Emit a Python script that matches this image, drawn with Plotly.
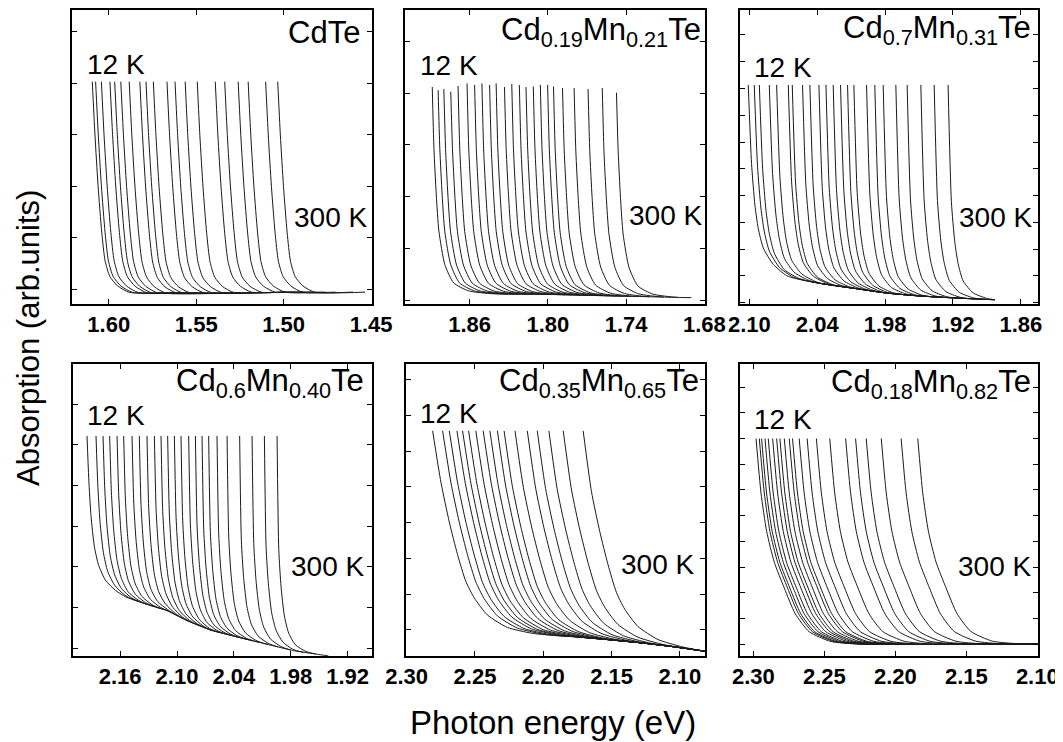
import numpy as np
import plotly.graph_objects as go

# The page body adds an 8 px margin, so the figure is drawn 8 px in from the top-left
OFF = 8
W, H = 1063 - OFF, 742 - OFF

# ---------------- data ----------------
TITLES = ["CdTe",
          "Cd<sub>0.19</sub>Mn<sub>0.21</sub>Te",
          "Cd<sub>0.7</sub>Mn<sub>0.31</sub>Te",
          "Cd<sub>0.6</sub>Mn<sub>0.40</sub>Te",
          "Cd<sub>0.35</sub>Mn<sub>0.65</sub>Te",
          "Cd<sub>0.18</sub>Mn<sub>0.82</sub>Te"]

# Absorption-edge energies (eV) at the top of each curve, 12 K -> 300 K
EDGES_1 = [1.6094, 1.6075, 1.6042, 1.5993, 1.5966, 1.5931, 1.5883, 1.5822, 1.5787, 1.5745,
           1.5667, 1.5621, 1.5563, 1.5494, 1.5391, 1.5337, 1.5260, 1.5203, 1.5103, 1.5034]
EDGES_2 = [1.8887, 1.8842, 1.8798, 1.8745, 1.8689, 1.8620, 1.8562, 1.8506, 1.8447, 1.8397,
           1.8333, 1.8277, 1.8219, 1.8168, 1.8112, 1.8058, 1.8002, 1.7957, 1.7888, 1.7799,
           1.7692, 1.7583, 1.7474]
EDGES_3 = [2.1010, 2.0957, 2.0912, 2.0824, 2.0759, 2.0656, 2.0621, 2.0530, 2.0465, 2.0385,
           2.0323, 2.0259, 2.0194, 2.0132, 2.0076, 1.9964, 1.9891, 1.9817, 1.9705, 1.9605,
           1.9484, 1.9366, 1.9243]
EDGES_4 = [2.1950, 2.1855, 2.1781, 2.1711, 2.1633, 2.1563, 2.1475, 2.1398, 2.1317, 2.1239,
           2.1169, 2.1099, 2.1028, 2.0958, 2.0877, 2.0806, 2.0736, 2.0666, 2.0578, 2.0472,
           2.0339, 2.0208, 2.0078, 1.9944]
EDGES_5 = [2.2810, 2.2737, 2.2688, 2.2632, 2.2591, 2.2547, 2.2494, 2.2440, 2.2391, 2.2336,
           2.2287, 2.2207, 2.2117, 2.2044, 2.1959, 2.1854, 2.1708]
EDGES_6 = [2.2981, 2.2958, 2.2942, 2.2918, 2.2895, 2.2864, 2.2836, 2.2813, 2.2782, 2.2747,
           2.2724, 2.2677, 2.2621, 2.2556, 2.2462, 2.2350, 2.2280, 2.2205, 2.2099, 2.1959,
           2.1842]

# Absorption value at the top of each curve (arb. units, in tick steps)
TOPS_1 = [4.03] * len(EDGES_1)
TOPS_2 = [4.12, 4.06, 4.08, 4.03, 4.14, 4.19, 4.16, 4.19, 4.16, 4.19, 4.12, 4.18, 4.16,
          4.12, 4.13, 4.16, 4.16, 4.13, 4.10, 4.10, 4.08, 4.10, 4.01]
TOPS_3 = [8.13] * len(EDGES_3)
TOPS_4 = [5.22] * len(EDGES_4)
TOPS_5 = [5.57] * len(EDGES_5)
TOPS_6 = [8.0] * len(EDGES_6)

# Edge profile: energy below the top (eV) and height above the background
PROF_DX_1 = [0, 0.0015, 0.0033, 0.0054, 0.0073, 0.0100, 0.0144, 0.0211]
PROF_Y_1 = [0, 3.05, 2.05, 1.15, 0.60, 0.30, 0.12, 0.0]
PROF_DX_2 = [0, 0.0013, 0.0031, 0.0051, 0.0097, 0.0165, 0.0280, 0.0460]
PROF_Y_2 = [0, 2.80, 1.90, 1.20, 0.55, 0.20, 0.05, 0.0]
PROF_DX_3 = [0, 0.0029, 0.0059, 0.0088, 0.0133, 0.0221, 0.0339, 0.0412]
PROF_Y_3 = [0, 3.60, 2.10, 1.30, 0.65, 0.22, 0.04, 0.0]
PROF_DX_4 = [0, 0.0018, 0.0042, 0.0077, 0.0123, 0.0194, 0.0299, 0.0387]
PROF_Y_4 = [0, 2.40, 1.50, 0.80, 0.40, 0.15, 0.03, 0.0]
PROF_DX_5 = [0, 0.0061, 0.0122, 0.0182, 0.0243, 0.0304, 0.0401, 0.0547, 0.0729, 0.0924]
PROF_Y_5 = [0, 4.10, 3.00, 2.10, 1.35, 0.90, 0.45, 0.15, 0.03, 0.0]
PROF_DX_6 = [0, 0.0035, 0.0075, 0.0129, 0.0199, 0.0276, 0.0374, 0.0526, 0.0702, 0.0842]
PROF_Y_6 = [0, 5.90, 4.40, 3.20, 2.20, 1.20, 0.50, 0.12, 0.02, 0.0]

# Background (below-gap) level on which the tails lie
ENV_E_1 = [1.625, 1.570, 1.500, 1.445]
ENV_Y_1 = [-0.02, -0.07, -0.05, -0.05]
ENV_E_2 = [1.910, 1.800, 1.680]
ENV_Y_2 = [0.14, 0.11, 0.04]
ENV_E_3 = [2.108, 2.0906, 2.0671, 2.0376, 2.0082, 1.9788, 1.9493, 1.9199, 1.8831, 1.845]
ENV_Y_3 = [1.80, 1.45, 0.97, 0.72, 0.54, 0.36, 0.25, 0.18, 0.11, 0.08]
ENV_E_4 = [2.210, 2.190, 2.1739, 2.1528, 2.1317, 2.1106, 2.0894, 2.0648, 2.0402, 2.0120,
           1.9768, 1.9417, 1.894]
ENV_Y_4 = [1.95, 1.75, 1.50, 1.25, 1.08, 0.93, 0.68, 0.45, 0.30, 0.14, -0.06, -0.18, -0.19]
ENV_E_5 = [2.301, 2.2506, 2.2263, 2.2019, 2.1776, 2.1533, 2.1290, 2.1047, 2.081]
ENV_Y_5 = [0.05, 0.0, -0.08, -0.14, -0.19, -0.27, -0.36, -0.47, -0.60]
ENV_E_6 = [2.312, 2.099]
ENV_Y_6 = [-0.02, 0.0]

# Tail length beyond the edge (eV) and lowest energy reached by tails
TAIL_DE = [0.050, 0.058, 0.090, 0.054, 1.0, 1.0]
TAIL_MIN = [1.452, 1.690, 1.883, 1.896, 2.082, 2.100]

# Axes: energy range (left, right), tick values, y range
X_RANGES = [(1.621, 1.4495), (1.9096, 1.6795), (2.1083, 1.8448),
            (2.2098, 1.8942), (2.3005, 2.0816), (2.3094, 2.0995)]
X_TICKS = [[1.60, 1.55, 1.50, 1.45], [1.86, 1.80, 1.74, 1.68],
           [2.10, 2.04, 1.98, 1.92, 1.86], [2.16, 2.10, 2.04, 1.98, 1.92],
           [2.30, 2.25, 2.20, 2.15, 2.10], [2.30, 2.25, 2.20, 2.15, 2.10]]
Y_RANGES = [(-0.28, 5.42), (-0.077, 5.61), (-0.05, 10.93),
            (-0.19, 6.99), (-0.73, 7.44), (-0.46, 10.9)]
Y_NTICKS = [5, 5, 10, 6, 7, 10]

# ---------------- layout geometry (window pixels) ----------------
FRAMES = [(72, 372, 10, 304), (405, 705, 10, 304), (740, 1038, 10, 304),
          (73, 372, 364, 656), (406, 705, 364, 656), (740, 1038, 364, 656)]

EDGES = [EDGES_1, EDGES_2, EDGES_3, EDGES_4, EDGES_5, EDGES_6]
TOPS = [TOPS_1, TOPS_2, TOPS_3, TOPS_4, TOPS_5, TOPS_6]
PDX = [PROF_DX_1, PROF_DX_2, PROF_DX_3, PROF_DX_4, PROF_DX_5, PROF_DX_6]
PY = [PROF_Y_1, PROF_Y_2, PROF_Y_3, PROF_Y_4, PROF_Y_5, PROF_Y_6]
ENVE = [ENV_E_1, ENV_E_2, ENV_E_3, ENV_E_4, ENV_E_5, ENV_E_6]
ENVY = [ENV_Y_1, ENV_Y_2, ENV_Y_3, ENV_Y_4, ENV_Y_5, ENV_Y_6]


def px(x):
    return (x - OFF) / W


def py_(y):
    return 1 - (y - OFF) / H


def curve(edge, top, pdx, py, enve, envy, tail_de, e_min):
    ee = np.array(enve[::-1])
    ey = np.array(envy[::-1])
    env = lambda e: float(np.interp(e, ee, ey))
    xs, ys = [edge], [top]
    for dx, y in zip(pdx[1:], py[1:]):
        e = edge - dx
        if e < e_min:
            break
        xs.append(e)
        ys.append(y + env(e))
    e_end = max(edge - tail_de, e_min)
    last = xs[-1]
    for e, y in zip(enve, envy):
        if e_end < e < last:
            xs.append(e)
            ys.append(y)
    if e_end < xs[-1]:
        xs.append(e_end)
        ys.append(env(e_end))
    return xs, ys


fig = go.Figure()
FONT = "Liberation Sans, Arial, sans-serif"

for p in range(6):
    ax = "" if p == 0 else str(p + 1)
    for edge, top in zip(EDGES[p], TOPS[p]):
        xs, ys = curve(edge, top, PDX[p], PY[p], ENVE[p], ENVY[p], TAIL_DE[p], TAIL_MIN[p])
        fig.add_trace(go.Scatter(x=xs, y=ys, mode="lines", xaxis="x" + ax, yaxis="y" + ax,
                                 line=dict(color="#1a1a1a", width=1, shape="spline", smoothing=0.6),
                                 showlegend=False, hoverinfo="skip"))
    l, r, t, b = FRAMES[p]
    fig.layout["xaxis" + ax] = dict(
        domain=[px(l), px(r)], anchor="y" + ax, range=list(X_RANGES[p]),
        tickvals=X_TICKS[p], ticktext=["%.2f" % v for v in X_TICKS[p]],
        ticks="inside", ticklen=5, tickwidth=1.3, tickcolor="black",
        showline=True, linecolor="black", linewidth=1.5, mirror="ticks",
        showgrid=False, zeroline=False, automargin=False,
        tickfont=dict(family=FONT, size=22, color="black", weight="bold"))
    fig.layout["yaxis" + ax] = dict(
        domain=[py_(b), py_(t)], anchor="x" + ax, range=list(Y_RANGES[p]),
        tickvals=list(range(Y_NTICKS[p] + 1)), showticklabels=False,
        ticks="inside", ticklen=5, tickwidth=1.3, tickcolor="black",
        showline=True, linecolor="black", linewidth=1.5, mirror="ticks",
        showgrid=False, zeroline=False, automargin=False)

# annotation positions (window pixels)
TITLE_RIGHT = [362, 703, 1033, 366, 701, 1033]
TITLE_Y = [32, 32, 30, 383, 383, 384]
K12_LEFT = [85, 418, 752, 85, 418, 752]
K12_Y = [65, 66, 67, 415, 414, 419]
K300_RIGHT = [369, 704, 1034, 366, 696, 1033]
K300_Y = [217, 216, 217, 566, 564, 566]

anns = []
for p in range(6):
    anns.append(dict(text=TITLES[p], xref="paper", yref="paper", x=px(TITLE_RIGHT[p]),
                     y=py_(TITLE_Y[p]), xanchor="right", yanchor="middle", showarrow=False,
                     font=dict(family=FONT, size=31, color="black")))
    anns.append(dict(text="12 K", xref="paper", yref="paper", x=px(K12_LEFT[p]),
                     y=py_(K12_Y[p]), xanchor="left", yanchor="middle", showarrow=False,
                     font=dict(family=FONT, size=28, color="black")))
    anns.append(dict(text="300 K", xref="paper", yref="paper", x=px(K300_RIGHT[p]),
                     y=py_(K300_Y[p]), xanchor="right", yanchor="middle", showarrow=False,
                     font=dict(family=FONT, size=28, color="black")))

anns.append(dict(text="Absorption (arb.units)", xref="paper", yref="paper", x=px(28),
                 y=py_(338), xanchor="center", yanchor="middle", textangle=-90,
                 showarrow=False, font=dict(family=FONT, size=31, color="black")))
anns.append(dict(text="Photon energy (eV)", xref="paper", yref="paper", x=px(553),
                 y=py_(722), xanchor="center", yanchor="middle",
                 showarrow=False, font=dict(family=FONT, size=33, color="black")))

fig.update_layout(width=W, height=H, autosize=False, margin=dict(l=0, r=0, t=0, b=0),
                  paper_bgcolor="white", plot_bgcolor="white", annotations=anns,
                  showlegend=False)

fig.write_html("out.html")
